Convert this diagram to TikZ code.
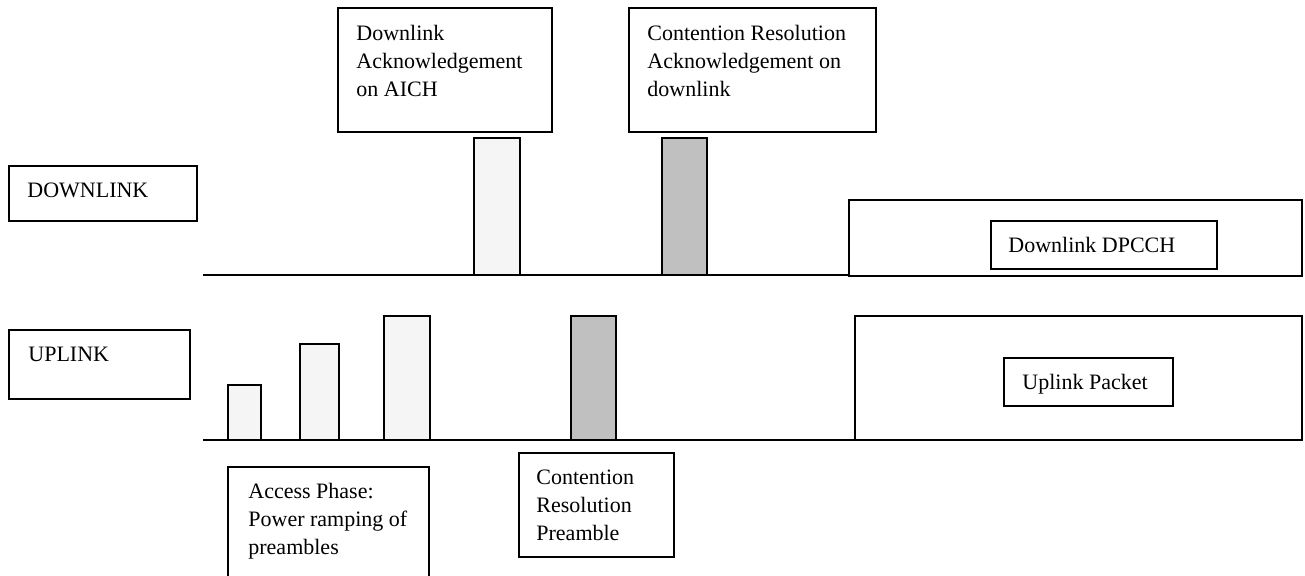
\documentclass[tikz,border=0pt]{standalone}
\usepackage{fontspec}
\setmainfont{Liberation Serif}
\usepackage{tikz}
\usetikzlibrary{positioning}
\usetikzlibrary{calc}
\definecolor{palebar}{HTML}{F5F5F5}
\definecolor{greybar}{HTML}{C0C0C0}

\begin{document}
\begin{tikzpicture}[ x=0.5pt, y=-0.5pt,
    frame/.style= {draw, line width=1pt},
    axis/.style= {line width=1pt},
    ramp/.style= {draw, line width=1pt, fill=palebar},
    resol/.style= {draw, line width=1pt, fill=greybar},
    label/.style= {inner sep=0pt, align=left,
        font=\fontsize{11pt}{14pt}\selectfont} ]
    \useasboundingbox (0,0) rectangle (1305,576);
    % channel lines
    \coordinate (dl start) at (203,275);
    \coordinate (dl end) at (849,275);
    \coordinate (ul start) at (203,440);
    \coordinate (ul end) at (855,440);
    \draw [axis] (dl start) -- (dl end);
    \draw [axis] (ul start) -- (ul end);
    % downlink side
    \draw [frame] (9,166) rectangle (197,221);
    \node (downlink) [label, anchor=base west] at (27,198) {DOWNLINK};
    \draw [frame] (338,8) rectangle (552,132);
    \node (aich) [label, anchor=north west] at (356,25) {Downlink\\Acknowledgement\\on AICH};
    \draw [frame] (629,8) rectangle (876,132);
    \node (cr ack) [label, anchor=north west] at (647,25) {Contention Resolution\\Acknowledgement on\\downlink};
    \draw [ramp] (474,275) rectangle (520,138);
    \draw [resol] (662,275) rectangle (707,138);
    \draw [frame] (849,200) rectangle (1302,276);
    \draw [frame] (991,221) rectangle (1217,269);
    \node (dpcch) [label, anchor=base west] at (1008,253) {Downlink DPCCH};
    % uplink side
    \draw [frame] (9,330) rectangle (190,399);
    \node (uplink) [label, anchor=base west] at (28,362) {UPLINK};
    \foreach \l/\r/\t in {228/261/385, 300/339/344, 384/430/316}
        \draw [ramp] (\l,440) rectangle (\r,\t);
    \draw [resol] (571,440) rectangle (616,316);
    \draw [frame] (855,316) rectangle (1302,440);
    \draw [frame] (1004,358) rectangle (1173,406);
    \node (packet) [label, anchor=base west] at (1022,390) {Uplink Packet};
    \draw [frame] (228,467) rectangle (429,590);
    \node (access) [label, anchor=north west] at (248,483) {Access Phase:\\Power ramping of\\preambles};
    \draw [frame] (519,453) rectangle (674,557);
    \node (cr pre) [label, anchor=north west] at (536,470) {Contention\\Resolution\\Preamble};
\end{tikzpicture}
\end{document}
